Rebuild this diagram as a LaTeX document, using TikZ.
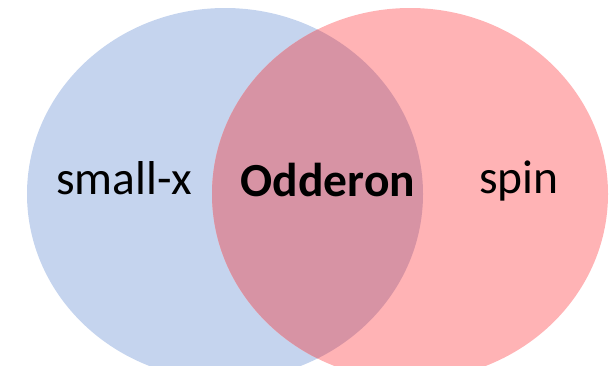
\documentclass[tikz,border=0pt]{standalone}
\usepackage{fontspec}
\setmainfont{Carlito}
\definecolor{setblue}{HTML}{C5D4EE}
\definecolor{setred}{HTML}{FFB3B5}
\definecolor{setboth}{HTML}{D793A4}
\begin{document}
\begin{tikzpicture}[x=1pt,y=-1pt,
  lbl/.style={font=\fontsize{47.5}{56}\selectfont, text=black, anchor=base, inner sep=0pt}]
  \useasboundingbox (0,0) rectangle (612,365);
  \begin{scope}
    \clip (0,0) rectangle (612,365);
    % the two sets
    \fill[setblue] (225,194) ellipse [x radius=198, y radius=186];
    \fill[setred] (410,194) ellipse [x radius=198, y radius=186];
    % their intersection
    \begin{scope}
      \clip (225,194) ellipse [x radius=198, y radius=186];
      \fill[setboth] (410,194) ellipse [x radius=198, y radius=186];
    \end{scope}
  \end{scope}
  \node[lbl] (sx) at (124,194.5) {small-x};
  \node[lbl, font=\fontsize{47.5}{56}\selectfont\bfseries] (odd) at (328,196.5) {Odderon};
  \node[lbl] (sp) at (519,193.5) {spin};
\end{tikzpicture}
\end{document}
